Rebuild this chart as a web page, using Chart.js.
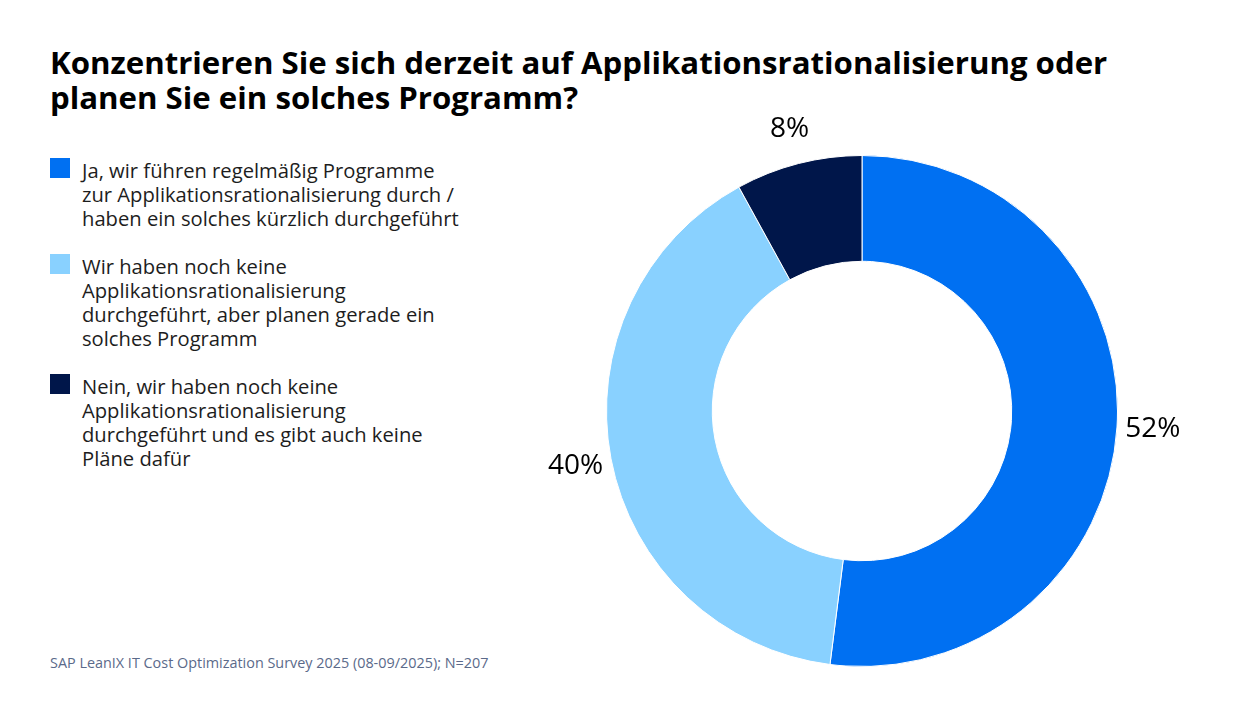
<!DOCTYPE html>
<html>
<head>
<meta charset="utf-8">
<script src="https://cdn.jsdelivr.net/npm/chart.js@4.4.1/dist/chart.umd.min.js"></script>
<style>
  body { margin: 0; width: 1240px; height: 720px; background: #fff; position: relative; overflow: hidden; font-family: "Open Sans", sans-serif; }
  #title { position: absolute; left: 50px; top: 45px; font-family: "Open Sans", sans-serif; font-weight: 700; font-size: 31.2px; line-height: 35px; color: #000; }
  #legend { position: absolute; left: 50px; top: 158px; width: 460px; }
  .item { position: relative; padding-left: 32px; margin-bottom: 24px; font-size: 20.2px; line-height: 24px; color: #1d1d1d; }
  .item .sw { position: absolute; left: 0; top: 0; width: 20px; height: 20px; }
  #source { position: absolute; left: 50px; top: 653px; font-size: 14.4px; color: #5b6a8a; }
  #wrap { position: absolute; left: 500px; top: 110px; width: 724px; height: 602px; }
</style>
</head>
<body>
<div id="title">Konzentrieren Sie sich derzeit auf Applikationsrationalisierung oder<br>planen Sie ein solches Programm?</div>
<div id="legend"></div>
<div id="source">SAP LeanIX IT Cost Optimization Survey 2025 (08-09/2025); N=207</div>
<div id="wrap"><canvas id="donut"></canvas></div>
<script>
// Antworten (Legendentext, Zeilen wie im Original umbrochen)
const categories = [
  ['Ja, wir führen regelmäßig Programme', 'zur Applikationsrationalisierung durch /', 'haben ein solches kürzlich durchgeführt'],
  ['Wir haben noch keine', 'Applikationsrationalisierung', 'durchgeführt, aber planen gerade ein', 'solches Programm'],
  ['Nein, wir haben noch keine', 'Applikationsrationalisierung', 'durchgeführt und es gibt auch keine', 'Pläne dafür']
];
const values = [52, 40, 8];
const colors = ['#0070F2', '#89D1FF', '#00164A'];

// Legend
const legend = document.getElementById('legend');
categories.forEach((lines, i) => {
  const div = document.createElement('div');
  div.className = 'item';
  div.innerHTML = '<span class="sw" style="background:' + colors[i] + '"></span>' + lines.join('<br>');
  legend.appendChild(div);
});

// percentage labels outside the ring
const outsideLabels = {
  id: 'outsideLabels',
  afterDatasetsDraw(chart) {
    const ctx = chart.ctx;
    const meta = chart.getDatasetMeta(0);
    ctx.save();
    ctx.font = '28px "Open Sans", sans-serif';
    ctx.fillStyle = '#000';
    ctx.textAlign = 'center';
    ctx.textBaseline = 'middle';
    meta.data.forEach((arc, i) => {
      const p = arc.getProps(['x', 'y', 'startAngle', 'endAngle', 'outerRadius'], true);
      const mid = (p.startAngle + p.endAngle) / 2;
      const r = p.outerRadius + 36;
      ctx.fillText(values[i] + '%', p.x + Math.cos(mid) * r, p.y + Math.sin(mid) * r);
    });
    ctx.restore();
  }
};

const ctx = document.getElementById('donut').getContext('2d');
new Chart(ctx, {
  type: 'doughnut',
  data: {
    labels: categories.map(l => l.join(' ')),
    datasets: [{
      data: values,
      backgroundColor: colors,
      borderColor: '#ffffff',
      borderWidth: 1
    }]
  },
  options: {
    responsive: true,
    maintainAspectRatio: false,
    animation: false,
    cutout: '58.6%',
    layout: { padding: { top: 45, bottom: 45, left: 106, right: 106 } },
    plugins: {
      legend: { display: false },
      tooltip: { enabled: false }
    }
  },
  plugins: [outsideLabels]
});
</script>
</body>
</html>
